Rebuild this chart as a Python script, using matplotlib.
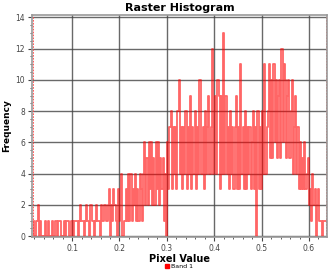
import matplotlib
matplotlib.use('Agg')
import matplotlib.pyplot as plt
import numpy as np
from matplotlib.ticker import MultipleLocator

# histogram of band 1, 256 bins between data min and max
vmin = 0.018
vmax = 0.636
counts = [1,0,1,1,2,0,1,0,0,0,1,0,0,1,0,0,
          1,0,0,1,1,0,1,1,0,0,0,1,0,1,1,0,
          0,1,1,0,1,1,1,0,1,2,1,1,0,1,2,1,
          1,0,2,1,1,0,1,2,1,1,0,2,1,1,2,2,
          1,2,3,0,2,1,3,2,1,0,3,1,2,4,0,1,
          1,3,1,4,1,4,1,3,2,4,1,3,1,4,3,1,
          4,6,2,5,2,6,3,6,2,5,2,6,3,6,2,5,
          3,5,1,4,0,6,3,7,8,3,7,4,7,3,8,10,
          4,7,3,7,4,8,3,7,4,9,3,7,4,8,3,7,
          4,10,10,4,7,3,8,4,7,9,4,7,12,4,8,9,
          4,10,9,3,9,4,13,4,9,4,7,3,8,4,7,3,
          7,9,3,7,3,11,4,7,3,8,3,7,4,7,3,6,
          8,3,7,0,8,3,7,3,8,4,11,4,7,8,11,5,
          10,5,11,6,10,5,9,10,5,12,6,11,10,5,9,10,
          5,8,10,4,7,9,4,7,3,6,3,5,3,6,3,4,
          5,2,3,1,4,2,3,0,2,3,1,1,0,1,1,1]

edges = np.linspace(vmin, vmax, len(counts) + 1)
centers = (edges[:-1] + edges[1:]) / 2

fig = plt.figure(figsize=(3.31, 2.73), dpi=100)
ax = fig.add_axes([0.097, 0.132, 0.891, 0.813])

ax.plot(centers, counts, drawstyle='steps-mid', color='#ff0000', lw=1.3, alpha=0.6,
        label='Band 1')
ax.axvline(vmin, color='#ff4040', lw=0.6, ls=(0, (2, 1.5)))
ax.axvline(vmax, color='#ff4040', lw=0.6, ls=(0, (2, 1.5)))

ax.set_xlim(0.0156, 0.638)
ax.set_ylim(-0.05, 14.15)
ax.xaxis.set_major_locator(MultipleLocator(0.1))
ax.xaxis.set_minor_locator(MultipleLocator(0.02))
ax.yaxis.set_major_locator(MultipleLocator(2))
ax.yaxis.set_minor_locator(MultipleLocator(0.5))
ax.grid(True, which='major', color='#444444', lw=1.0, alpha=0.8)
ax.set_axisbelow(True)
ax.tick_params(which='both', direction='out', labelsize=5.5, colors='#444444', pad=2)
ax.tick_params(which='major', length=3)
ax.tick_params(which='minor', length=1.5)
for s in ax.spines.values():
    s.set_color('#999999')
    s.set_linewidth(1.2)

ax.set_title('Raster Histogram', fontsize=8, fontweight='bold', pad=3)
ax.set_xlabel('Pixel Value', fontsize=7, fontweight='bold', labelpad=1)
ax.set_ylabel('Frequency', fontsize=6.5, fontweight='bold', labelpad=3)

h = [plt.Line2D([], [], marker='s', color='#ff0000', ls='', markersize=3.5)]
fig.legend(h, ['Band 1'], loc='lower center', bbox_to_anchor=(0.54, -0.005), frameon=False,
           fontsize=4.5, handletextpad=0.2, handlelength=0.8)

plt.savefig('out.png', dpi=100)
